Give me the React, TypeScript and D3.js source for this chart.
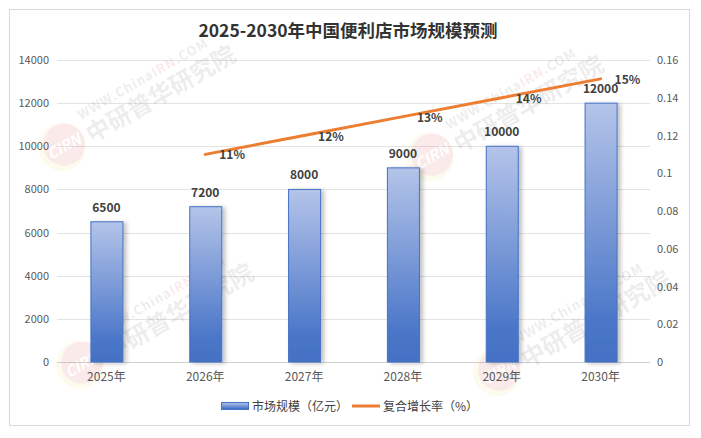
import React from 'react';
import * as d3 from 'd3';

const years = ['2025年', '2026年', '2027年', '2028年', '2029年', '2030年'];
const marketSize = [6500, 7200, 8000, 9000, 10000, 12000];
// growth rate starts at 2026
const growthYears = ['2026年', '2027年', '2028年', '2029年', '2030年'];
const growthRate = [0.11, 0.12, 0.13, 0.14, 0.15];
const growthLabels = ['11%', '12%', '13%', '14%', '15%'];
const leftTicks = [0, 2000, 4000, 6000, 8000, 10000, 12000, 14000];
const rightTicks = [0, 0.02, 0.04, 0.06, 0.08, 0.1, 0.12, 0.14, 0.16];

const W = 701;
const H = 438;
const plot = { left: 57, right: 650, top: 60, bottom: 362 };
const FONT = '"Noto Sans CJK SC", "Open Sans", sans-serif';

// watermark anchor points (logo centres)
const marks = [
  [62, 147],
  [430, 157],
  [80, 365],
  [497, 372],
];

const Watermark: React.FC<{ x: number; y: number }> = ({ x, y }) => (
  <g transform={`translate(${x},${y}) rotate(-30)`} opacity={0.1}>
    <circle r={24} fill="#f4d35e" />
    <circle cx={3} cy={-1} r={21} fill="#e03a3a" />
    <text x={2} y={6} textAnchor="middle" fontSize={15} fontWeight="bold" fontStyle="italic" fill="#fff" fontFamily={FONT}>
      CIRN
    </text>
    <text x={30} y={-14} fontSize={13} fontWeight="bold" fill="#555" fontFamily={FONT} letterSpacing={1}>
      WWW.China<tspan fill="#e03a3a">IRN</tspan>.COM
    </text>
    <text x={28} y={12} fontSize={24} fontWeight="bold" fill="#555" fontFamily={FONT}>
      中研普华研究院
    </text>
  </g>
);

export default function App() {
  const x = d3.scaleBand<string>().domain(years).range([plot.left, plot.right]).paddingInner(0.676).paddingOuter(0.338);
  const yL = d3.scaleLinear().domain([0, 14000]).range([plot.bottom, plot.top]);
  const yR = d3.scaleLinear().domain([0, 0.16]).range([plot.bottom, plot.top]);
  const cx = (k: string) => (x(k) ?? 0) + x.bandwidth() / 2;

  const line = d3
    .line<number>()
    .x((_, i) => cx(growthYears[i]))
    .y((d) => yR(d));

  return (
    <div style={{ position: 'absolute', left: 0, top: 0 }}>
      <svg width={W} height={H} style={{ display: 'block', background: '#fff' }}>
        <defs>
          <linearGradient id="barGrad" x1="0" y1="0" x2="0" y2="1">
            <stop offset="0%" stopColor="#b4c4e9" />
            <stop offset="85%" stopColor="#4a76c8" />
            <stop offset="100%" stopColor="#4471c4" />
          </linearGradient>
          <filter id="shadow" x="-30%" y="-10%" width="180%" height="120%">
            <feGaussianBlur in="SourceAlpha" stdDeviation="2" />
            <feOffset dx="3" dy="1" result="b" />
            <feComponentTransfer>
              <feFuncA type="linear" slope="0.25" />
            </feComponentTransfer>
            <feMerge>
              <feMergeNode />
              <feMergeNode in="SourceGraphic" />
            </feMerge>
          </filter>
        </defs>

        <rect x={9.5} y={9.5} width={680} height={416} fill="#fff" stroke="#d9d9d9" strokeWidth={1} />

        <text x={348} y={37} textAnchor="middle" fontSize={17.5} fontWeight="bold" fill="#333" fontFamily={FONT}>
          2025-2030年中国便利店市场规模预测
        </text>

        {/* grid */}
        {leftTicks.map((t) => (
          <line key={t} x1={plot.left} x2={plot.right} y1={Math.round(yL(t)) + 0.5} y2={Math.round(yL(t)) + 0.5} stroke={t === 0 ? '#d0d0d0' : '#e3e3e3'} strokeWidth={1} />
        ))}

        {/* left axis labels */}
        {leftTicks.map((t) => (
          <text key={t} x={49} y={yL(t) + 4} textAnchor="end" fontSize={11} fill="#595959" fontFamily={FONT}>
            {t}
          </text>
        ))}

        {/* right axis labels */}
        {rightTicks.map((t) => (
          <text key={t} x={657} y={yR(t) + 4} textAnchor="start" fontSize={11} fill="#595959" fontFamily={FONT}>
            {d3.format('~g')(+t.toFixed(2))}
          </text>
        ))}

        {/* watermarks */}
        {marks.map(([mx, my], i) => (
          <Watermark key={i} x={mx} y={my} />
        ))}

        {/* bars */}
        {marketSize.map((v, i) => (
          <rect
            key={years[i]}
            x={(x(years[i]) ?? 0) + 0.5}
            y={yL(v)}
            width={x.bandwidth()}
            height={yL(0) - yL(v)}
            fill="url(#barGrad)"
            stroke="#4472c4"
            strokeWidth={1}
            filter="url(#shadow)"
          />
        ))}

        {/* bar labels */}
        {marketSize.map((v, i) => (
          <text key={years[i]} x={cx(years[i])} y={yL(v) - 10} textAnchor="middle" fontSize={12} fontWeight="bold" fill="#404040" fontFamily={FONT}>
            {v}
          </text>
        ))}

        {/* growth line */}
        <path d={line(growthRate) ?? ''} fill="none" stroke="#ed7d31" strokeWidth={3} strokeLinecap="round" />

        {growthRate.map((v, i) => (
          <text key={growthYears[i]} x={cx(growthYears[i]) + 14} y={yR(v) + 5} textAnchor="start" fontSize={12} fontWeight="bold" fill="#404040" fontFamily={FONT}>
            {growthLabels[i]}
          </text>
        ))}

        {/* x labels */}
        {years.map((k) => (
          <text key={k} x={cx(k)} y={381} textAnchor="middle" fontSize={12} fill="#595959" fontFamily={FONT}>
            {k}
          </text>
        ))}

        {/* legend */}
        <rect x={221.5} y={402.5} width={27} height={7} fill="url(#barGrad)" stroke="#4472c4" strokeWidth={1} />
        <text x={252} y={411} fontSize={12} fill="#404040" fontFamily={FONT}>
          市场规模（亿元）
        </text>
        <line x1={352} x2={380} y1={406} y2={406} stroke="#ed7d31" strokeWidth={3} />
        <text x={383} y={411} fontSize={12} fill="#404040" fontFamily={FONT}>
          复合增长率（%）
        </text>
      </svg>
    </div>
  );
}
